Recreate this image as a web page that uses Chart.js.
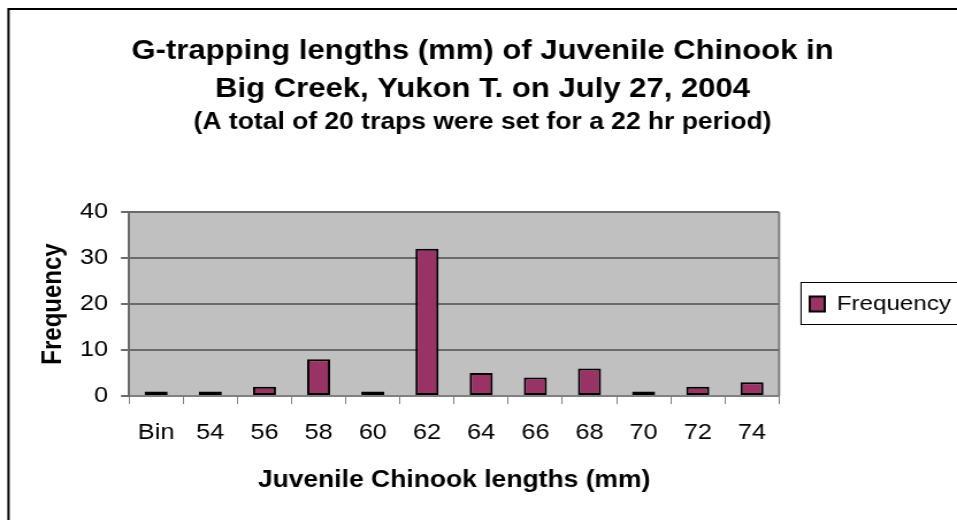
<!doctype html>
<html lang="en">
<head>
    <meta charset="utf-8">
    <title>G-trapping lengths of Juvenile Chinook</title>
    <script src="https://cdn.jsdelivr.net/npm/chart.js"></script>
    <style>
        html, body { margin: 0; padding: 0; background: #ffffff; }
        #wadah { position: relative; width: 957px; height: 520px; overflow: hidden; }
        /* kanvas digambar lebih sempit lalu ditarik melebar, seperti gambar aslinya */
        #grafikPanjang { display: block; }
    </style>
</head>
<body>
    <div id="wadah">
        <canvas id="grafikPanjang" width="832" height="520" style="width: 957px; height: 520px;"></canvas>
    </div>
    <script type="text/javascript">
        // data panjang ikan (kelas panjang mm)
        var kategori = ['Bin', '54', '56', '58', '60', '62', '64', '66', '68', '70', '72', '74'];
        var frekuensi = [1, 1, 2, 8, 1, 32, 5, 4, 6, 1, 2, 3];
        var tickY = [0, 10, 20, 30, 40];

        var judul = ['G-trapping lengths (mm) of Juvenile Chinook in', 'Big Creek, Yukon T. on July 27, 2004'];
        var subjudul = '(A total of 20 traps were set for a 22 hr period)';

        var FONT = "'Liberation Sans', Arial, sans-serif";
        var KIRI_PLOT = 112.2;      // tepi kiri area plot (koordinat kanvas)
        var LEBAR_LEGENDA = 154.7;  // ruang kanan untuk legenda

        // latar abu-abu area plot + bingkai luar + kotak legenda
        var pluginLatar = {
            id: 'latar',
            beforeLayout: function (chart) {
                var lg = chart.legend;
                if (lg && !lg._lebarTetap) {
                    var fitAsli = lg.fit;
                    lg.fit = function () {
                        fitAsli.call(this);
                        this.width = LEBAR_LEGENDA;
                    };
                    lg._lebarTetap = true;
                }
            },
            afterLayout: function (chart) {
                // legenda di tengah tinggi area plot
                var lg = chart.legend, a = chart.chartArea;
                if (lg) {
                    lg.top = a.top;
                    lg.bottom = a.bottom;
                    lg.height = a.bottom - a.top;
                }
            },
            beforeDraw: function (chart) {
                var c = chart.ctx, a = chart.chartArea;
                c.save();
                c.fillStyle = '#c0c0c0';
                c.fillRect(a.left, a.top, a.right - a.left, a.bottom - a.top);
                c.strokeStyle = '#808080';
                c.lineWidth = 2;
                c.beginPath();
                c.moveTo(a.right, a.top);
                c.lineTo(a.right, a.bottom);
                c.stroke();
                c.restore();
            },
            afterDraw: function (chart) {
                var c = chart.ctx, a = chart.chartArea;
                c.save();
                c.strokeStyle = '#000000';
                c.lineWidth = 2;
                c.strokeRect(7.4, 9, 1000, 600);
                var tengah = (a.top + a.bottom) / 2 - 1;
                c.lineWidth = 1;
                c.strokeRect(a.right + 19.1, Math.round(tengah - 21) + 0.5, 300, 42);
                c.restore();
            }
        };

        var ctx = document.getElementById('grafikPanjang').getContext('2d');
        var grafik = new Chart(ctx, {
            type: 'bar',
            data: {
                labels: kategori,
                datasets: [{
                    label: 'Frequency',
                    data: frekuensi,
                    backgroundColor: '#993366',
                    borderColor: '#000000',
                    borderWidth: 2,
                    borderSkipped: false,
                    barPercentage: 0.425,
                    categoryPercentage: 1
                }]
            },
            options: {
                responsive: false,
                animation: false,
                devicePixelRatio: 1,
                layout: { padding: { top: 0, left: 7, right: 0, bottom: 26 } },
                plugins: {
                    title: {
                        display: true,
                        text: judul,
                        color: '#000000',
                        font: { family: FONT, size: 27, weight: 'bold', lineHeight: 38 / 27 },
                        padding: { top: 32.5, bottom: 0 }
                    },
                    subtitle: {
                        display: true,
                        text: subjudul,
                        color: '#000000',
                        font: { family: FONT, size: 23, weight: 'bold', lineHeight: 1.2 },
                        padding: { top: 0, bottom: 75.9 }
                    },
                    legend: {
                        position: 'right',
                        labels: {
                            color: '#000000',
                            font: { family: FONT, size: 21 },
                            boxWidth: 13,
                            boxHeight: 15,
                            padding: 26.7
                        }
                    },
                    tooltip: { enabled: false }
                },
                scales: {
                    x: {
                        afterFit: function (axis) { axis.height = 98; },
                        grid: { display: true, drawOnChartArea: false, drawTicks: true, tickLength: 8, color: '#808080', lineWidth: 1 },
                        border: { color: '#808080', width: 2 },
                        ticks: { color: '#000000', font: { family: FONT, size: 22 }, padding: 16.2 },
                        title: {
                            display: true,
                            text: 'Juvenile Chinook lengths (mm)',
                            color: '#000000',
                            font: { family: FONT, size: 23, weight: 'bold', lineHeight: 1.2 },
                            padding: { top: 0, bottom: 0 }
                        }
                    },
                    y: {
                        min: 0,
                        max: 40,
                        afterFit: function (axis) { axis.width = KIRI_PLOT - 7; },
                        afterBuildTicks: function (axis) {
                            axis.ticks = tickY.map(function (v) { return { value: v }; });
                        },
                        grid: { color: '#6a6a6a', lineWidth: 2, tickLength: 7 },
                        border: { color: '#6a6a6a', width: 2 },
                        ticks: { color: '#000000', font: { family: FONT, size: 22 }, padding: 11.3 },
                        title: {
                            display: true,
                            text: 'Frequency',
                            color: '#000000',
                            font: { family: FONT, size: 24, weight: 'bold', lineHeight: 1.2 },
                            padding: { top: 25, bottom: 0 }
                        }
                    }
                }
            },
            plugins: [pluginLatar]
        });
    </script>
</body>
</html>
